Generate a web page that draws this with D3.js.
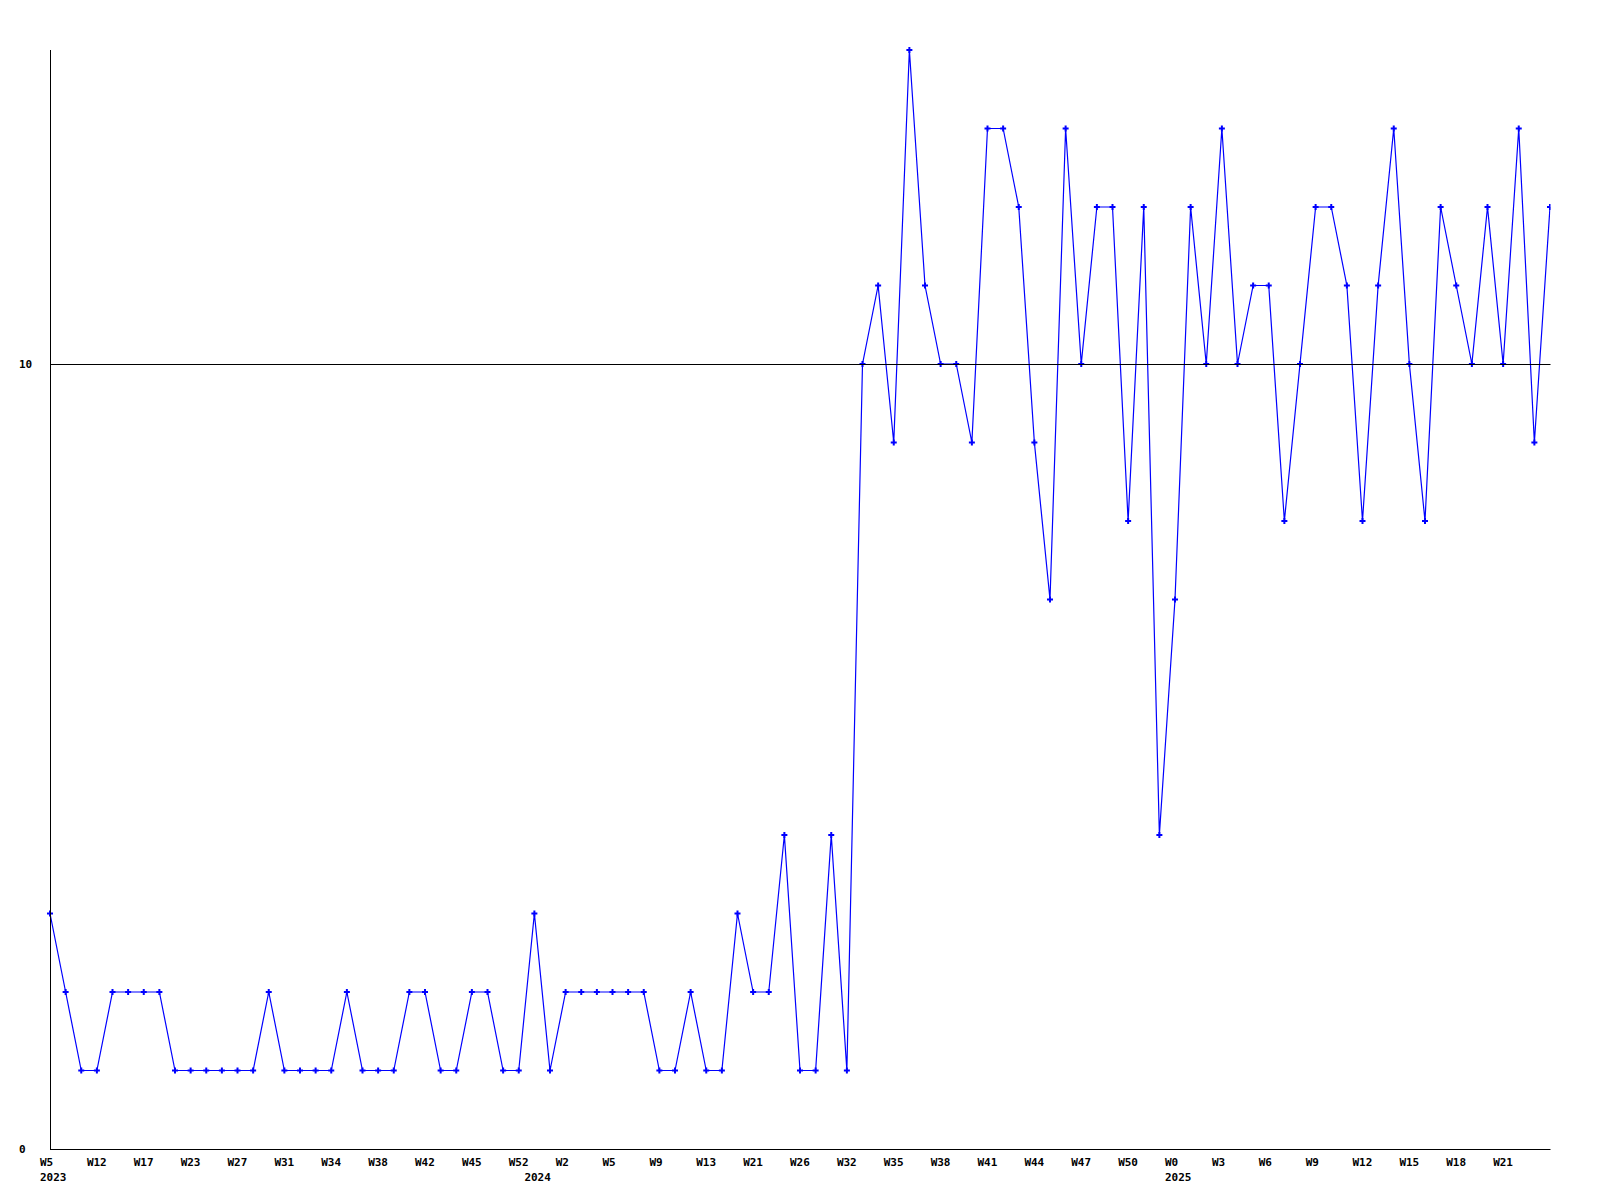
<!DOCTYPE html>
<html>
<head>
<meta charset="utf-8">
<script src="https://cdn.jsdelivr.net/npm/d3@7"></script>
<style>
  html, body { margin: 0; padding: 0; background: #fff; }
  svg text { font-family: "DejaVu Sans Mono", "Liberation Mono", monospace; font-weight: bold; font-size: 11px; fill: #000; }
</style>
</head>
<body>
<svg id="chart" width="1600" height="1200"></svg>
<script>
// ---- data ----
const values = [3,2,1,1,2,2,2,2,1,1,1,1,1,1,2,1,1,1,1,2,1,1,1,2,2,1,1,2,2,1,1,3,1,2,2,2,2,2,2,1,1,2,1,1,3,2,2,4,1,1,4,1,
  10,11,9,14,11,10,10,9,13,13,12,9,7,13,10,12,12,8,12,4,7,12,10,13,10,11,11,8,10,12,12,11,8,11,13,10,8,12,11,10,12,10,13,9,12];
const weekLabels = ["W5","W12","W17","W23","W27","W31","W34","W38","W42","W45","W52","W2","W5","W9","W13","W21",
  "W26","W32","W35","W38","W41","W44","W47","W50","W0","W3","W6","W9","W12","W15","W18","W21"];
const weekLabelStep = 3;              // a week label every 3 points
const yearLabels = ["2023","2024","2025"];
const yearIndex = [0, 31, 72];        // point where each year starts
const yTickValues = [0, 10];
const yMax = 14;

// ---- layout ----
const svg = d3.select("#chart");
const mLeft = 50, mRight = 1550, mTop = 50, mBottom = 1149;

const x = d3.scaleLinear().domain([0, values.length - 1]).range([mLeft, mRight]);
const y = d3.scaleLinear().domain([0, yMax]).range([mBottom, mTop]);

svg.append("defs").append("clipPath").attr("id", "plotClip")
  .append("rect").attr("x", mLeft - 5).attr("y", mTop - 5).attr("width", mRight - mLeft + 5.5).attr("height", mBottom - mTop + 10);

const plot = svg.append("g").attr("clip-path", "url(#plotClip)");

// data line
const line = d3.line().x((d, i) => x(i)).y(d => y(d));
plot.append("path")
  .datum(values)
  .attr("d", line)
  .attr("fill", "none")
  .attr("stroke", "#0000ff")
  .attr("stroke-width", 1.2);

// markers
const sym = d3.symbol().type(d3.symbolCross).size(20);
plot.selectAll("path.mk")
  .data(values)
  .join("path")
  .attr("class", "mk")
  .attr("d", sym)
  .attr("transform", (d, i) => `translate(${x(i)},${y(d)})`)
  .attr("fill", "#0000ff");

// grid line at 10, baseline and y labels
yTickValues.forEach(v => {
  svg.append("line")
    .attr("x1", mLeft).attr("x2", mRight + 0.5)
    .attr("y1", Math.round(y(v)) + 0.5).attr("y2", Math.round(y(v)) + 0.5)
    .attr("stroke", "#000").attr("stroke-width", 1);
  svg.append("text")
    .attr("x", 19).attr("y", Math.round(y(v)) + 4)
    .text(v);
});
svg.append("line")
  .attr("x1", mLeft + 0.5).attr("x2", mLeft + 0.5)
  .attr("y1", mTop).attr("y2", mBottom + 0.5)
  .attr("stroke", "#000").attr("stroke-width", 1);

// x labels
weekLabels.forEach((lab, k) => {
  svg.append("text")
    .attr("x", x(k * weekLabelStep) - 10)
    .attr("y", 1166)
    .text(lab);
});
yearLabels.forEach((lab, k) => {
  svg.append("text")
    .attr("x", x(yearIndex[k]) - 10)
    .attr("y", 1181)
    .text(lab);
});
</script>
</body>
</html>
